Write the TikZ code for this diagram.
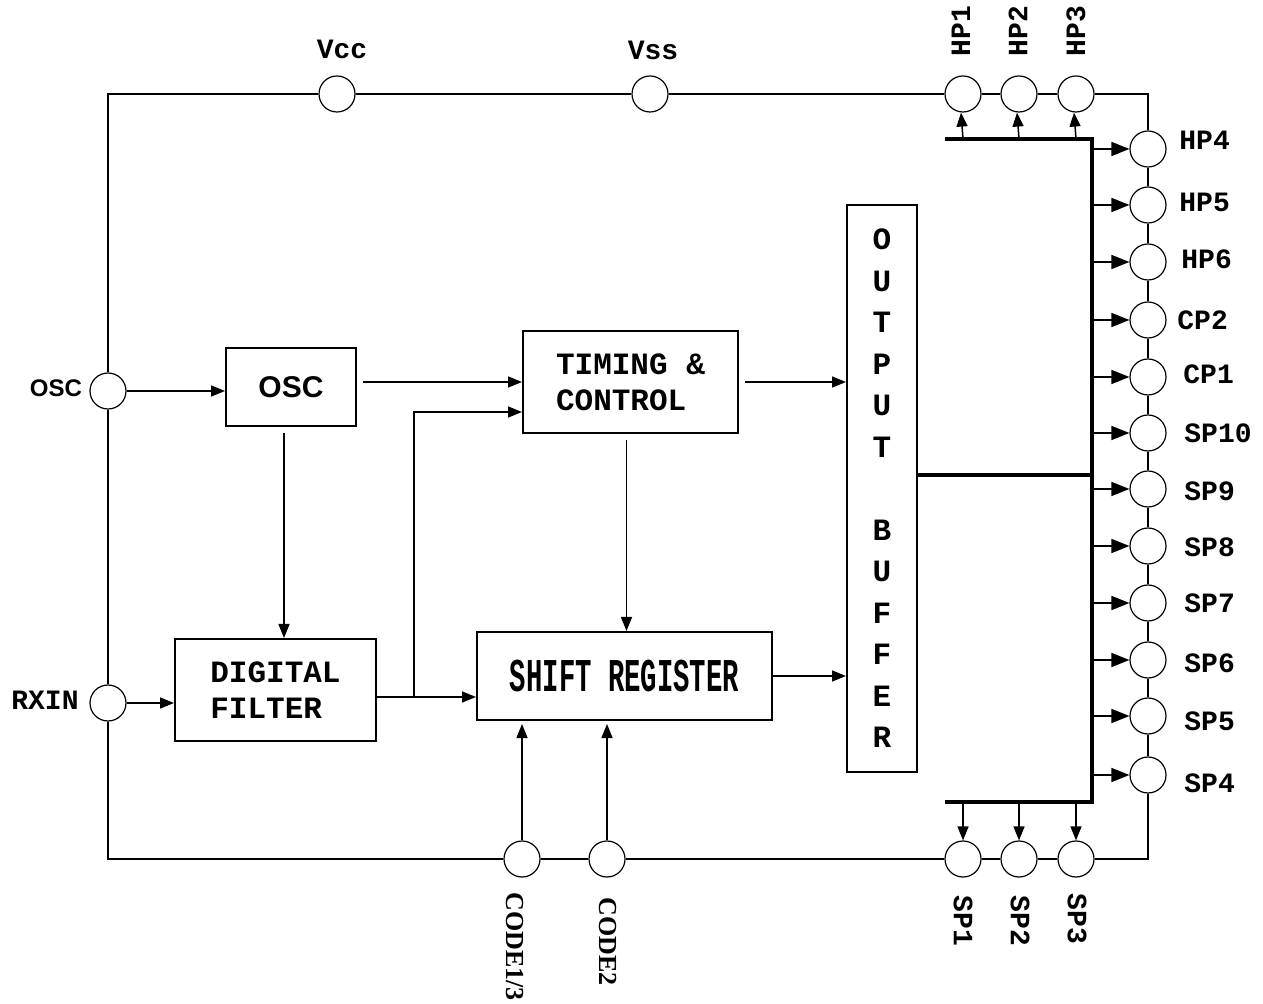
\documentclass[tikz,border=0pt]{standalone}
\usepackage{fontspec}
\newfontfamily\cour{Liberation Mono}
\newfontfamily\arial{Liberation Sans}
\newfontfamily\tnr{Liberation Serif}
\usetikzlibrary{arrows.meta,calc}
\begin{document}
\begin{tikzpicture}[x=0.5pt,y=-0.5pt,
  wire/.style={line width=0.75pt},
  arr/.style={line width=0.75pt,-{Triangle[length=7pt,width=5.5pt]}},
  barr/.style={line width=0.75pt,-{Triangle[length=9pt,width=7pt]}},
  pin/.style={circle,draw,line width=0.6pt,minimum size=18pt,inner sep=0pt},
  blk/.style={draw,line width=1pt,inner sep=0pt,font=\cour\bfseries\fontsize{15.5}{18}\selectfont},
  lbl/.style={inner sep=0pt,font=\cour\bfseries\fontsize{14}{16}\selectfont},
  codelbl/.style={inner sep=0pt,font=\tnr\bfseries\fontsize{13}{15}\selectfont},
  bus/.style={line width=2.25pt}]
\useasboundingbox (0,0) rectangle (1263,1004);

% ---------- blocks ----------
\node[blk,minimum width=65pt,minimum height=39pt,font=\arial\bfseries\fontsize{15}{18}\selectfont] (oscbox) at (291,387) {OSC};
\node[blk,minimum width=107.5pt,minimum height=51pt,align=left] (tim) at (630.5,382) {TIMING \&\\CONTROL};
\node[blk,minimum width=100.5pt,minimum height=51pt,align=left] (filt) at (275.5,690) {DIGITAL\\FILTER};
\node[blk,minimum width=147.5pt,minimum height=44pt] (shift) at (624.5,676)
  {\fontsize{23.5}{26}\selectfont\scalebox{0.58}[1]{SHIFT REGISTER}};
\node[blk,minimum width=35pt,minimum height=283.5pt,align=center,
  font=\cour\bfseries\fontsize{15.5}{20.75}\selectfont] (buf) at (882,488.5)
  {O\\U\\T\\P\\U\\T\\[20.75pt]B\\U\\F\\F\\E\\R};

% ---------- pins ----------
\node[pin] (oscpin) at (108,391) {};
\node[pin] (rxin) at (108,703) {};
\node[pin] (vcc) at (337,94) {};
\node[pin] (vss) at (650,94) {};
\node[pin] (hp1) at (963,94) {};
\node[pin] (hp2) at (1019,94) {};
\node[pin] (hp3) at (1076,94) {};
\node[pin] (hp4) at (1148,149) {};
\node[pin] (hp5) at (1148,205) {};
\node[pin] (hp6) at (1148,262) {};
\node[pin] (cp2) at (1148,320) {};
\node[pin] (cp1) at (1148,377) {};
\node[pin] (sp10) at (1148,433) {};
\node[pin] (sp9) at (1148,489) {};
\node[pin] (sp8) at (1148,546) {};
\node[pin] (sp7) at (1148,603) {};
\node[pin] (sp6) at (1148,660) {};
\node[pin] (sp5) at (1148,716) {};
\node[pin] (sp4) at (1148,775) {};
\node[pin] (sp1) at (963,859) {};
\node[pin] (sp2) at (1019,859) {};
\node[pin] (sp3) at (1076,859) {};
\node[pin] (c13) at (522,859) {};
\node[pin] (c2) at (607,859) {};

% ---------- labels ----------
\node[inner sep=0pt,font=\arial\bfseries\fontsize{12}{14}\selectfont] (loscpin) at (56,388) {OSC};
\node[lbl] (lrxin) at (45,700) {RXIN};
\node[lbl] (lvcc) at (342,49) {Vcc};
\node[lbl] (lvss) at (653,50) {Vss};
\node[lbl,rotate=90,anchor=west] (lhp1) at (961,57) {HP1};
\node[lbl,rotate=90,anchor=west] (lhp2) at (1018,57) {HP2};
\node[lbl,rotate=90,anchor=west] (lhp3) at (1076,57) {HP3};
\node[lbl,anchor=west] (lhp4) at (1179,140) {HP4};
\node[lbl,anchor=west] (lhp5) at (1179,202) {HP5};
\node[lbl,anchor=west] (lhp6) at (1181,259) {HP6};
\node[lbl,anchor=west] (lcp2) at (1177,320) {CP2};
\node[lbl,anchor=west] (lcp1) at (1183,374) {CP1};
\node[lbl,anchor=west] (lsp10) at (1184,433) {SP10};
\node[lbl,anchor=west] (lsp9) at (1184,491) {SP9};
\node[lbl,anchor=west] (lsp8) at (1184,547) {SP8};
\node[lbl,anchor=west] (lsp7) at (1184,603) {SP7};
\node[lbl,anchor=west] (lsp6) at (1184,663) {SP6};
\node[lbl,anchor=west] (lsp5) at (1184,721) {SP5};
\node[lbl,anchor=west] (lsp4) at (1184,783) {SP4};
\node[lbl,rotate=-90,anchor=west] (lsp1) at (963,895) {SP1};
\node[lbl,rotate=-90,anchor=west] (lsp2) at (1020,895) {SP2};
\node[lbl,rotate=-90,anchor=west] (lsp3) at (1077,893) {SP3};
\node[codelbl,rotate=-90,anchor=west] (lc13) at (515,892) {CODE1/3};
\node[codelbl,rotate=-90,anchor=west] (lc2) at (608,897) {CODE2};

% ---------- outer wiring ----------
\coordinate (tl) at (108,94);
\coordinate (tr) at (1148,94);
\coordinate (bl) at (108,859);
\coordinate (brc) at (1148,859);
\draw[wire] (oscpin.north) -- (tl) -- (vcc.west);
\draw[wire] (vcc.east) -- (vss.west);
\draw[wire] (vss.east) -- (hp1.west);
\draw[wire] (hp1.east) -- (hp2.west);
\draw[wire] (hp2.east) -- (hp3.west);
\draw[wire] (hp3.east) -- (tr) -- (hp4.north);
\draw[wire] (hp4.south) -- (hp5.north);
\draw[wire] (hp5.south) -- (hp6.north);
\draw[wire] (hp6.south) -- (cp2.north);
\draw[wire] (cp2.south) -- (cp1.north);
\draw[wire] (cp1.south) -- (sp10.north);
\draw[wire] (sp10.south) -- (sp9.north);
\draw[wire] (sp9.south) -- (sp8.north);
\draw[wire] (sp8.south) -- (sp7.north);
\draw[wire] (sp7.south) -- (sp6.north);
\draw[wire] (sp6.south) -- (sp5.north);
\draw[wire] (sp5.south) -- (sp4.north);
\draw[wire] (sp4.south) -- (brc) -- (sp3.east);
\draw[wire] (sp3.west) -- (sp2.east);
\draw[wire] (sp2.west) -- (sp1.east);
\draw[wire] (sp1.west) -- (c2.east);
\draw[wire] (c2.west) -- (c13.east);
\draw[wire] (c13.west) -- (bl) -- (rxin.south);
\draw[wire] (rxin.north) -- (oscpin.south);

% ---------- internal connections ----------
\draw[arr] (oscpin.east) -- (oscpin.east -| oscbox.west);
\draw[arr] (rxin.east) -- (rxin.east -| filt.west);
\draw[arr] ([xshift=3pt]oscbox.east |- tim.west) -- (tim.west);
\draw[arr] ([xshift=-3.5pt,yshift=-3pt]oscbox.south) -- ([xshift=-3.5pt]oscbox.south |- filt.north);
\coordinate (j) at (414,697);
\draw[arr] (filt.east |- j) -- (j -| shift.west);
\draw[arr] (j) |- ($(tim.west)+(0,30)$);
\draw[arr] ([xshift=3pt]tim.east) -- (tim.east -| buf.west);
\draw[arr] ([xshift=-2pt,yshift=-3pt]tim.south) -- ([xshift=-2pt]tim.south |- shift.north);
\draw[arr] (shift.east) -- (shift.east -| buf.west);
\draw[arr] (c13.north) -- ($(c13.north |- shift.south)+(0,3)$);
\draw[arr] (c2.north) -- ($(c2.north |- shift.south)+(0,3)$);

% ---------- output bus ----------
\coordinate (bTL) at (945,139);
\coordinate (bTR) at (1092,139);
\coordinate (bBR) at (1092,802);
\coordinate (bBL) at (945,802);
\coordinate (bM) at (1092,475);
\draw[bus] (bTL) -- (bTR) -- (bBR) -- (bBL);
\draw[bus] (bM -| buf.east) -- (bM);
\foreach \p in {hp1,hp2,hp3}
  \draw[arr] (\p.south |- bTR) -- ([xshift=-1pt]\p.south);
\foreach \p in {sp1,sp2,sp3}
  \draw[arr] (\p.north |- bBR) -- (\p.north);
\foreach \p in {hp4,hp5,hp6,cp2,cp1,sp10,sp9,sp8,sp7,sp6,sp5,sp4}
  \draw[barr] (\p.west -| bTR) -- (\p.west);
\end{tikzpicture}
\end{document}
